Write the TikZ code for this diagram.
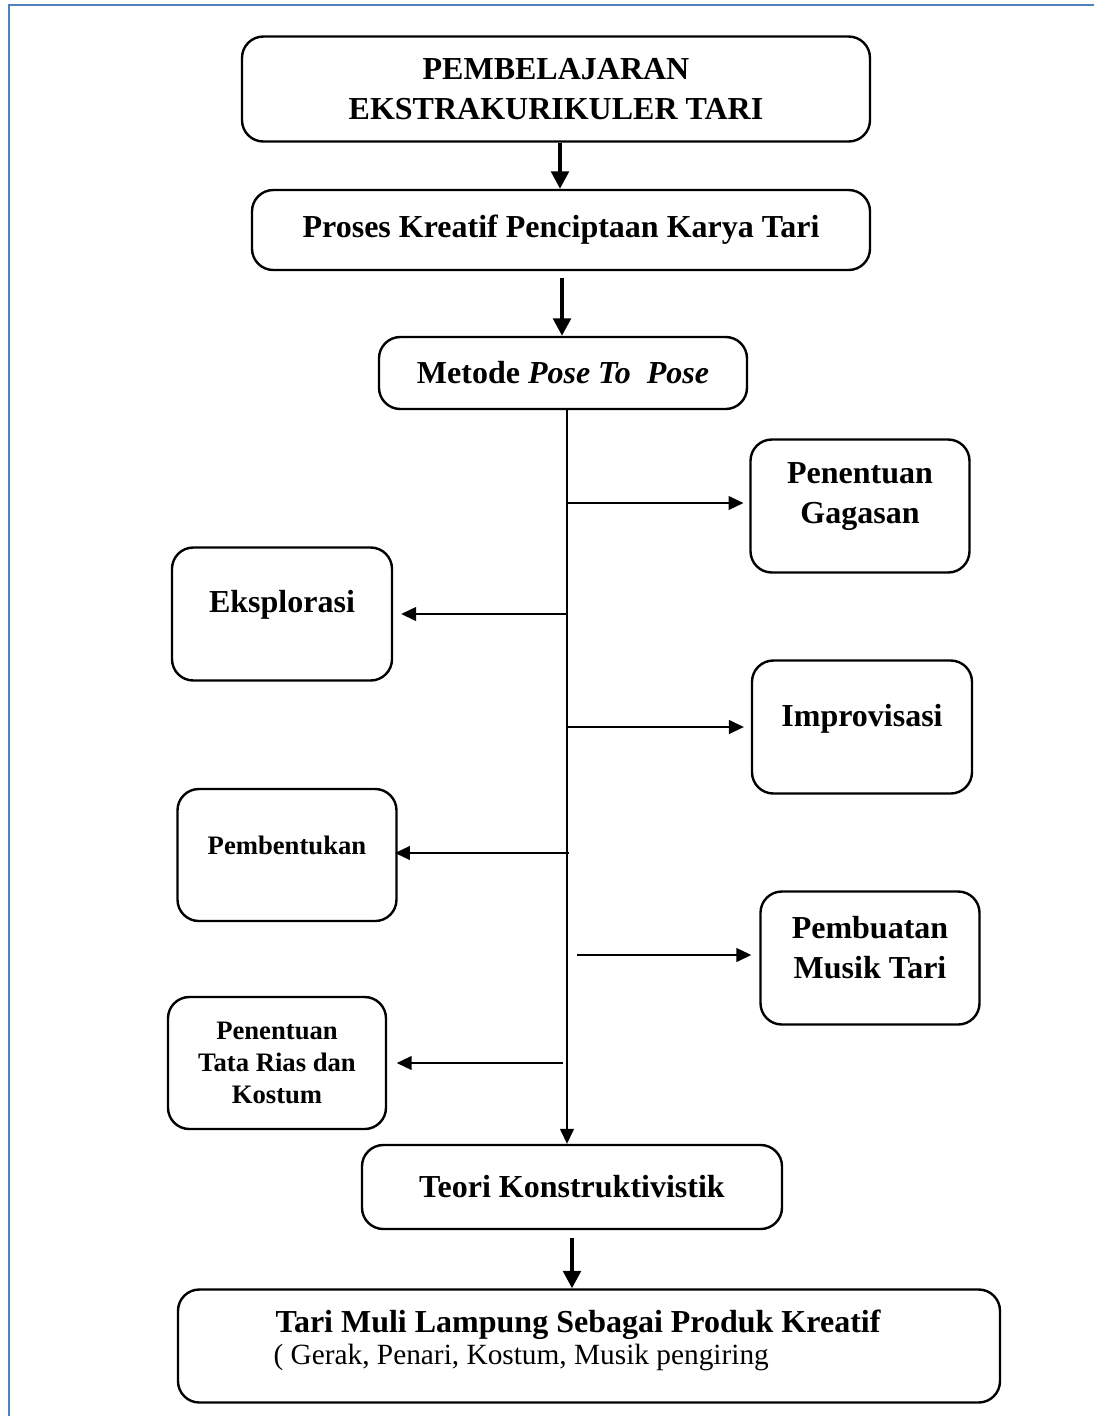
\documentclass[tikz,border=0pt]{standalone}
\usepackage{fontspec}
\setmainfont{Liberation Serif}
\usetikzlibrary{arrows.meta,positioning,calc}
\definecolor{frameblue}{RGB}{79,129,189}

\begin{document}
\begin{tikzpicture}
[x=0.375pt, y=-0.375pt,
box/.style={rectangle, rounded corners=8pt, draw=black, line width=0.9pt, inner sep=0pt},
boxsize/.style 2 args={minimum width=#1*0.375pt, minimum height=#2*0.375pt},
boxtext/.style={align=center, font=\fontsize{12}{15}\selectfont\bfseries},
smalltext/.style={align=center, font=\fontsize{10}{12}\selectfont\bfseries},
bigarrow/.style={-{Triangle[length=6.5pt,width=6.5pt]}, line width=1.5pt},
thinarrow/.style={-{Triangle[length=5.6pt,width=5.2pt]}, line width=0.6pt}]

\useasboundingbox (0,0) rectangle (1094,1416);

% Draw frame
\draw[frameblue, line width=1.1pt] (9,1416) -- (9,5) -- (1094,5);

% Draw main column
\node [box, boxsize={628}{105}, boxtext] (pembelajaran) at (556,89)
  {PEMBELAJARAN\\EKSTRAKURIKULER TARI};
\node [box, boxsize={618}{80}, boxtext] (proses) at (561,230)
  {Proses Kreatif Penciptaan Karya Tari};
\node [box, boxsize={368}{72}, boxtext] (metode) at (563,373)
  {Metode \textit{Pose To\ \ Pose}};
\node [box, boxsize={420}{84}, boxtext] (teori) at (572,1187)
  {Teori Konstruktivistik};
\node [box, boxsize={822}{113}] (produk) at (589,1346) {};
\node [boxtext] (produktitle) at (578,1325)
  {Tari Muli Lampung Sebagai Produk Kreatif};
\node [anchor=west, inner sep=0pt, font=\fontsize{11}{13}\selectfont]
  (produkisi) at (273,1357) {( Gerak, Penari, Kostum, Musik pengiring};

% Draw steps
\node [box, boxsize={219}{133}] (gagasan) at (860,506) {};
\node [boxtext] (gagasantxt) at (860,497) {Penentuan\\Gagasan};
\node [box, boxsize={220}{133}] (eksplorasi) at (282,614) {};
\node [boxtext] (eksplorasitxt) at (282,605) {Eksplorasi};
\node [box, boxsize={220}{133}] (improvisasi) at (862,727) {};
\node [boxtext] (improvisasitxt) at (862,719) {Improvisasi};
\node [box, boxsize={219}{132}] (pembentukan) at (287,855) {};
\node [smalltext] (pembentukantxt) at (287,845) {Pembentukan};
\node [box, boxsize={219}{133}] (musik) at (870,958) {};
\node [boxtext] (musiktxt) at (870,948) {Pembuatan\\Musik Tari};
\node [box, boxsize={218}{132}, smalltext] (tatarias) at (277,1063)
  {Penentuan\\Tata Rias dan\\Kostum};

% Draw connections
\draw[bigarrow] (pembelajaran.south -| 560,0) -- (proses.north -| 560,0);
\draw[bigarrow, shorten <=2.6pt] (proses.south -| 562,0) -- (metode.north -| 562,0);
\draw[bigarrow, shorten <=3pt] (teori.south) -- (produk.north -| teori.south);

\coordinate (spine) at (567,0);
\draw[thinarrow] (metode.south -| spine) -- (teori.north -| spine);

\coordinate (togagasan) at (567,503);
\coordinate (toeksplorasi) at (567,614);
\coordinate (toimprovisasi) at (567,727);
\coordinate (topembentukan) at (569,853);
\coordinate (tomusik) at (577,955);
\coordinate (totatarias) at (563,1063);

\draw[thinarrow, shorten >=2.2pt] (togagasan) -- (togagasan -| gagasan.west);
\draw[thinarrow, shorten >=3pt] (toeksplorasi) -- (toeksplorasi -| eksplorasi.east);
\draw[thinarrow, shorten >=2.6pt] (toimprovisasi) -- (toimprovisasi -| improvisasi.west);
\draw[thinarrow, shorten >=-1pt] (topembentukan) -- (topembentukan -| pembentukan.east);
\draw[thinarrow, shorten >=3pt] (tomusik) -- (tomusik -| musik.west);
\draw[thinarrow, shorten >=3.6pt] (totatarias) -- (totatarias -| tatarias.east);

\end{tikzpicture}
\end{document}
